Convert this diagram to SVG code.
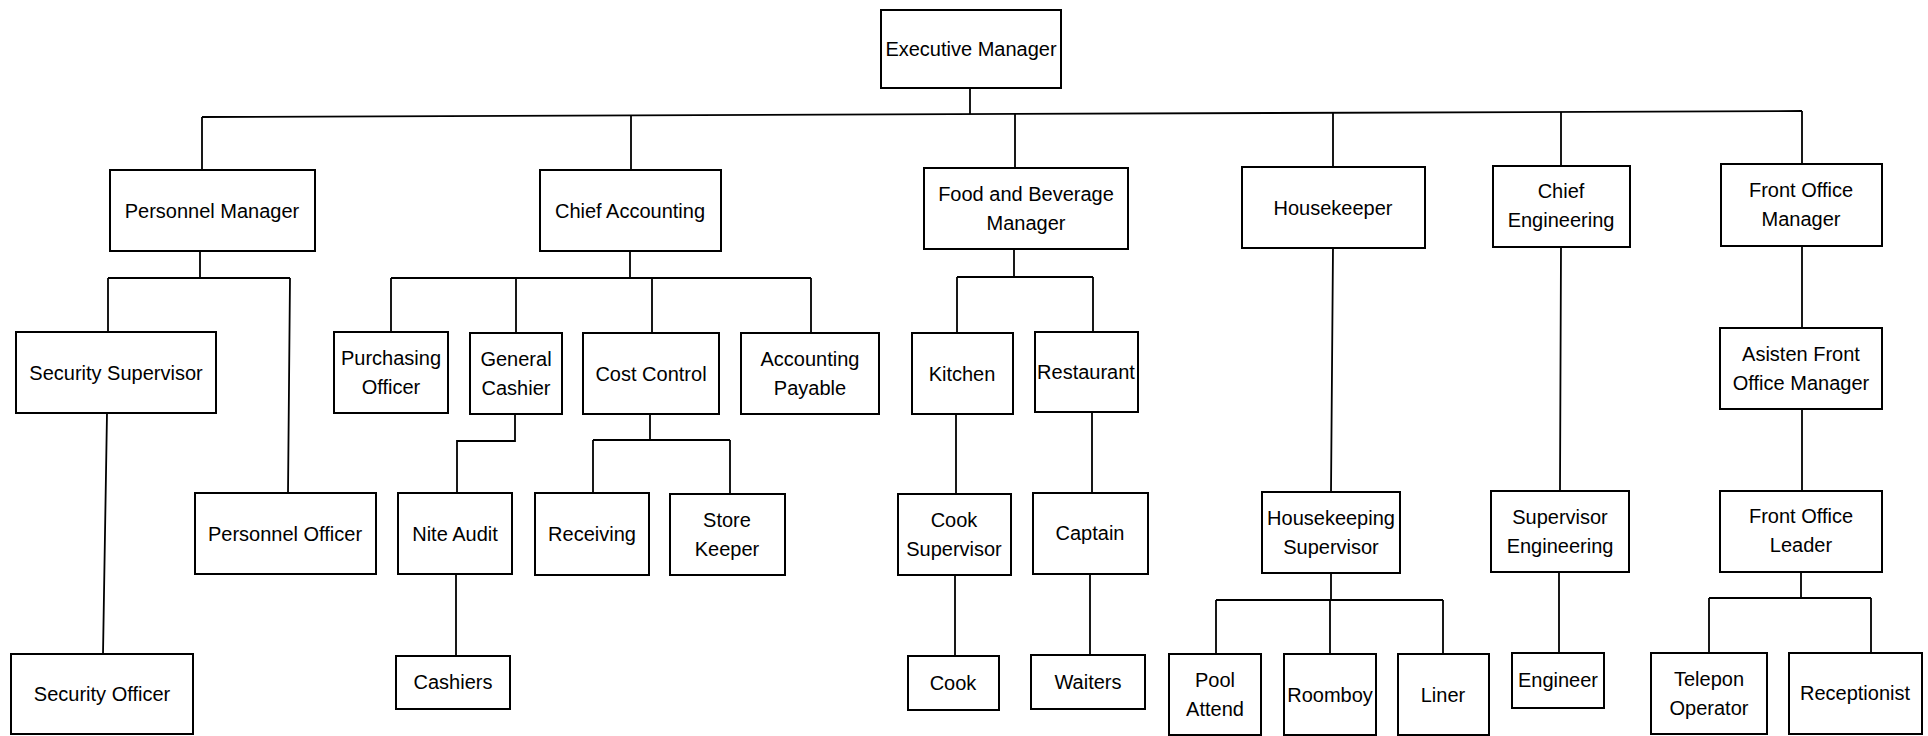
<svg xmlns="http://www.w3.org/2000/svg" width="1928" height="736" viewBox="0 0 1928 736">
<style>
rect.b{fill:#fff;stroke:#000;stroke-width:2}
text{font-family:"Liberation Sans",Arial,sans-serif;font-size:20px;fill:#000;text-anchor:middle}
#connectors path{fill:none;stroke:#000;stroke-width:1.8}
</style>
<rect width="1928" height="736" fill="#fff"/>
<g id="connectors">
<path d="M970,88V114.1"/>
<path d="M202,117L1802,111"/>
<path d="M202,117V170M631,115.4V170M1015,114V168M1333,112.8V167M1561,112V166M1802,111V164"/>
<path d="M200,251V278M108,278H290M108,278V332M290,278L288,493M107,413L103,654"/>
<path d="M630,251V278M391,278H811M391,278V332M516,278V333M652,278V333M811,278V333"/>
<path d="M515,414V441H457V493M456,574V656"/>
<path d="M650,414V440M593,440H730M593,440V493M730,440V494"/>
<path d="M1014,249V277M957,277H1093M957,277V333M1093,277V332"/>
<path d="M956,414V494M955,575V656M1092,412V493M1090,574V655"/>
<path d="M1333,248L1331,492M1331,573V600M1216,600H1443M1216,600V654M1330,600V654M1443,600V654"/>
<path d="M1561,247L1560,491M1559,572V653"/>
<path d="M1802,246V328M1802,409V491M1801,572V598M1709,598H1871M1709,598V653M1871,598V653"/>
</g>
<g id="executive-manager"><rect class="b" x="881" y="10" width="180" height="78"/><text x="971" y="56">Executive Manager</text></g>
<g id="personnel-manager"><rect class="b" x="110" y="170" width="205" height="81"/><text x="212" y="218">Personnel Manager</text></g>
<g id="chief-accounting"><rect class="b" x="540" y="170" width="181" height="81"/><text x="630" y="218">Chief Accounting</text></g>
<g id="fb-manager"><rect class="b" x="924" y="168" width="204" height="81"/><text x="1026" y="201">Food and Beverage<tspan x="1026" dy="29">Manager</tspan></text></g>
<g id="housekeeper"><rect class="b" x="1242" y="167" width="183" height="81"/><text x="1333" y="215">Housekeeper</text></g>
<g id="chief-engineering"><rect class="b" x="1493" y="166" width="137" height="81"/><text x="1561" y="198">Chief<tspan x="1561" dy="29">Engineering</tspan></text></g>
<g id="front-office-manager"><rect class="b" x="1721" y="164" width="161" height="82"/><text x="1801" y="197">Front Office<tspan x="1801" dy="29">Manager</tspan></text></g>
<g id="security-supervisor"><rect class="b" x="16" y="332" width="200" height="81"/><text x="116" y="380">Security Supervisor</text></g>
<g id="personnel-officer"><rect class="b" x="195" y="493" width="181" height="81"/><text x="285" y="541">Personnel Officer</text></g>
<g id="security-officer"><rect class="b" x="11" y="654" width="182" height="80"/><text x="102" y="701">Security Officer</text></g>
<g id="purchasing-officer"><rect class="b" x="334" y="332" width="114" height="81"/><text x="391" y="365">Purchasing<tspan x="391" dy="29">Officer</tspan></text></g>
<g id="general-cashier"><rect class="b" x="470" y="333" width="92" height="81"/><text x="516" y="366">General<tspan x="516" dy="29">Cashier</tspan></text></g>
<g id="cost-control"><rect class="b" x="583" y="333" width="136" height="81"/><text x="651" y="381">Cost Control</text></g>
<g id="accounting-payable"><rect class="b" x="741" y="333" width="138" height="81"/><text x="810" y="366">Accounting<tspan x="810" dy="29">Payable</tspan></text></g>
<g id="nite-audit"><rect class="b" x="398" y="493" width="114" height="81"/><text x="455" y="541">Nite Audit</text></g>
<g id="receiving"><rect class="b" x="535" y="493" width="114" height="82"/><text x="592" y="541">Receiving</text></g>
<g id="store-keeper"><rect class="b" x="670" y="494" width="115" height="81"/><text x="727" y="527">Store<tspan x="727" dy="29">Keeper</tspan></text></g>
<g id="cashiers"><rect class="b" x="396" y="656" width="114" height="53"/><text x="453" y="689">Cashiers</text></g>
<g id="kitchen"><rect class="b" x="912" y="333" width="101" height="81"/><text x="962" y="381">Kitchen</text></g>
<g id="restaurant"><rect class="b" x="1035" y="332" width="103" height="80"/><text x="1086" y="379">Restaurant</text></g>
<g id="cook-supervisor"><rect class="b" x="898" y="494" width="113" height="81"/><text x="954" y="527">Cook<tspan x="954" dy="29">Supervisor</tspan></text></g>
<g id="captain"><rect class="b" x="1033" y="493" width="115" height="81"/><text x="1090" y="540">Captain</text></g>
<g id="cook"><rect class="b" x="908" y="656" width="91" height="54"/><text x="953" y="690">Cook</text></g>
<g id="waiters"><rect class="b" x="1031" y="655" width="114" height="54"/><text x="1088" y="689">Waiters</text></g>
<g id="housekeeping-supervisor"><rect class="b" x="1262" y="492" width="138" height="81"/><text x="1331" y="525">Housekeeping<tspan x="1331" dy="29">Supervisor</tspan></text></g>
<g id="pool-attend"><rect class="b" x="1169" y="654" width="92" height="81"/><text x="1215" y="687">Pool<tspan x="1215" dy="29">Attend</tspan></text></g>
<g id="roomboy"><rect class="b" x="1284" y="654" width="92" height="81"/><text x="1330" y="702">Roomboy</text></g>
<g id="liner"><rect class="b" x="1398" y="654" width="91" height="81"/><text x="1443" y="702">Liner</text></g>
<g id="supervisor-engineering"><rect class="b" x="1491" y="491" width="138" height="81"/><text x="1560" y="524">Supervisor<tspan x="1560" dy="29">Engineering</tspan></text></g>
<g id="engineer"><rect class="b" x="1512" y="653" width="92" height="55"/><text x="1558" y="687">Engineer</text></g>
<g id="asisten-front-office-manager"><rect class="b" x="1720" y="328" width="162" height="81"/><text x="1801" y="361">Asisten Front<tspan x="1801" dy="29">Office Manager</tspan></text></g>
<g id="front-office-leader"><rect class="b" x="1720" y="491" width="162" height="81"/><text x="1801" y="523">Front Office<tspan x="1801" dy="29">Leader</tspan></text></g>
<g id="telepon-operator"><rect class="b" x="1651" y="653" width="116" height="81"/><text x="1709" y="686">Telepon<tspan x="1709" dy="29">Operator</tspan></text></g>
<g id="receptionist"><rect class="b" x="1789" y="653" width="133" height="81"/><text x="1855" y="700">Receptionist</text></g>
</svg>
